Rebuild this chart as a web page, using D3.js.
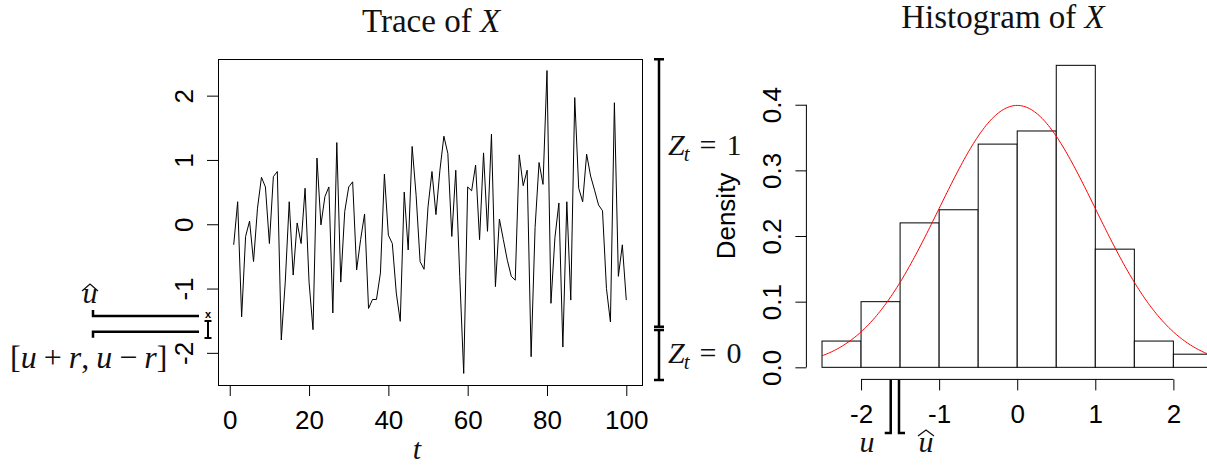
<!DOCTYPE html>
<html>
<head>
<meta charset="utf-8">
<script src="https://cdn.jsdelivr.net/npm/d3@7"></script>
<style>
  body { margin: 0; background: #fff; }
  svg { display: block; }
  .tick text { font-family: "Liberation Sans", Arial, sans-serif; font-size: 26px; fill: #000; }
  .tick line { stroke: #000; }
  .math { font-family: "Liberation Serif", "Times New Roman", serif; font-size: 30px; fill: #111; }
  .ann { fill: none; stroke: #000; stroke-width: 2.5; }
</style>
</head>
<body>
<div id="chart"></div>
<script>
// trace values X_t, t = 1..100
var traceValues = [
  -0.32, 0.35, -1.44, -0.19, 0.05, -0.58, 0.25, 0.73, 0.58, -0.30,
   0.74, 0.82, -1.80, -0.90, 0.35, -0.79, 0.02, -0.30, 0.56, -0.90,
  -1.64, 1.03, -0.01, 0.43, 0.58, -1.38, 1.27, -0.90, 0.20, 0.58,
   0.66, -0.71, -0.24, 0.16, -1.31, -1.17, -1.17, -0.76, 0.78, -0.17,
  -0.30, -1.07, -1.51, 0.50, -0.40, 1.21, 0.45, -0.58, -0.70, 0.27,
   0.82, 0.15, 0.84, 1.37, 1.10, -0.19, 0.84, -0.81, -2.32, 0.58,
   0.52, 0.92, -0.24, 1.11, -0.11, 1.40, -0.97, 0.08, -0.24, -0.56,
  -0.81, -0.87, 1.08, 0.60, 0.84, -2.06, -0.05, 0.96, 0.62, 2.39,
  -1.23, -0.21, 0.33, -1.91, 0.35, -1.18, 1.97, 0.56, 0.35, 1.09,
   0.75, 0.53, 0.30, 0.21, -1.00, -1.52, 1.89, -0.81, -0.32, -1.18
];
var tTicks = [0, 20, 40, 60, 80, 100];
var traceTicks = [-2, -1, 0, 1, 2];

// histogram
var binEdges = [-2.5, -2, -1.5, -1, -0.5, 0, 0.5, 1, 1.5, 2, 2.5];
var density = [0.04, 0.10, 0.22, 0.24, 0.34, 0.36, 0.46, 0.18, 0.04, 0.02];
var histXTicks = [-2, -1, 0, 1, 2];
var densTicks = [0, 0.1, 0.2, 0.3, 0.4];

// annotation levels (data units)
var zBands = [
  {z: "1", from: -1.593, to: 2.565, labelAt: 1.23},
  {z: "0", from: -2.422, to: -1.645, labelAt: -2.0}
];
var uHatLevel = -1.427, uBandLevel = -1.671;
var histU = -1.62, histUHat = -1.514;

var W = 1207, H = 465;
var svg = d3.select("#chart").append("svg")
  .attr("width", W).attr("height", H);

// ---------- left panel: trace ----------
var x = d3.scaleLinear().domain([-2.96, 103.96]).range([218, 642]);
var y = d3.scaleLinear().domain([-2.5, 2.57]).range([385, 59]);

svg.append("rect")
  .attr("x", 218.5).attr("y", 59.5)
  .attr("width", 424).attr("height", 326)
  .attr("fill", "none").attr("stroke", "#000");

var line = d3.line()
  .x(function(d, i) { return x(i + 1); })
  .y(function(d) { return y(d); });

svg.append("path")
  .datum(traceValues)
  .attr("d", line)
  .attr("fill", "none")
  .attr("stroke", "#000")
  .attr("stroke-width", 1);

var xAxis = svg.append("g")
  .attr("transform", "translate(0,385)")
  .call(d3.axisBottom(x).tickValues(tTicks).tickSize(11).tickFormat(function(d) { return String(d); }));
xAxis.select(".domain").remove();
xAxis.selectAll("text").attr("y", 44).attr("dy", null);

var yAxis = svg.append("g")
  .attr("transform", "translate(218,0)")
  .call(d3.axisLeft(y).tickValues(traceTicks).tickSize(11).tickFormat(function(d) { return String(d); }));
yAxis.select(".domain").remove();
yAxis.selectAll("text")
  .attr("x", 0).attr("dy", null)
  .attr("text-anchor", "middle")
  .attr("transform", "translate(-25,0) rotate(-90)");

// title
var t1 = svg.append("text").attr("class", "math").style("font-size", "33px")
  .attr("x", 431).attr("y", 32).attr("text-anchor", "middle");
t1.append("tspan").text("Trace of ");
t1.append("tspan").attr("font-style", "italic").text("X");

svg.append("text").attr("class", "math")
  .attr("x", 417).attr("y", 459).attr("text-anchor", "middle")
  .attr("font-style", "italic").text("t");

// Z_t bars on the right
zBands.forEach(function(b) {
  var y1 = y(b.to), y2 = y(b.from);
  svg.append("path").attr("class", "ann")
    .attr("d", "M654," + y1 + "H664M659," + y1 + "V" + y2 + "M654," + y2 + "H664");
  var lab = svg.append("text").attr("class", "math")
    .attr("x", 668).attr("y", y(b.labelAt) + 10);
  lab.append("tspan").attr("font-style", "italic").text("Z");
  lab.append("tspan").attr("font-style", "italic").style("font-size", "21px").attr("dy", 6).attr("dx", -1).text("t");
  lab.append("tspan").attr("dy", -6).attr("dx", 10).text("=");
  lab.append("tspan").attr("dx", 10).text(b.z);
});

// u-hat and [u+r, u-r] lines on the left
var yh1 = y(uHatLevel), yb1 = y(uBandLevel);
svg.append("path").attr("class", "ann")
  .attr("d", "M93," + (yh1 - 6) + "V" + yh1 + "H199");
svg.append("path").attr("class", "ann")
  .attr("d", "M93," + (yb1 + 6) + "V" + yb1 + "H199");

svg.append("text").attr("class", "math")
  .attr("x", 90).attr("y", 303).attr("text-anchor", "middle")
  .attr("font-style", "italic").text("u");
svg.append("path")
  .attr("d", "M82,291L90,284L98,291")
  .attr("fill", "none").attr("stroke", "#111").attr("stroke-width", 1.3);

var br = svg.append("text").attr("class", "math")
  .attr("x", 10).attr("y", 368).style("font-size", "32px");
br.append("tspan").text("[");
br.append("tspan").attr("font-style", "italic").text("u");
br.append("tspan").attr("dx", 7).text("+");
br.append("tspan").attr("dx", 7).attr("font-style", "italic").text("r");
br.append("tspan").text(",");
br.append("tspan").attr("dx", 7).attr("font-style", "italic").text("u");
br.append("tspan").attr("dx", 7).text("\u2212");
br.append("tspan").attr("dx", 7).attr("font-style", "italic").text("r");
br.append("tspan").text("]");

// small marker next to the y axis
svg.append("path").attr("fill", "none").attr("stroke", "#000").attr("stroke-width", 2)
  .attr("d", "M204.5,321H211.5M208,321V338M204.5,338H211.5");
svg.append("text").attr("x", 208).attr("y", 318).attr("text-anchor", "middle")
  .attr("font-family", "Liberation Sans, sans-serif").attr("font-weight", "bold")
  .attr("font-size", 11).text("x");

// ---------- right panel: histogram ----------
var xh = d3.scaleLinear().domain([-2.7, 2.7]).range([806.4, 806.4 + 5.4 * 78.08]);
var yh = d3.scaleLinear().domain([-0.0184, 0.4784]).range([379.4, 379.4 - 0.4968 * 656.5]);

svg.selectAll(".bar")
  .data(density)
  .enter()
  .append("rect")
  .attr("class", "bar")
  .attr("x", function(d, i) { return xh(binEdges[i]); })
  .attr("y", function(d) { return yh(d); })
  .attr("width", function(d, i) { return xh(binEdges[i + 1]) - xh(binEdges[i]); })
  .attr("height", function(d) { return yh(0) - yh(d); })
  .attr("fill", "#fff")
  .attr("stroke", "#000")
  .attr("stroke-width", 1);

// standard normal density overlay
var dnorm = function(v) { return Math.exp(-v * v / 2) / Math.sqrt(2 * Math.PI); };
var curveX = d3.range(-2.5, 2.5001, 0.02);
svg.append("path")
  .datum(curveX)
  .attr("d", d3.line().x(function(d) { return xh(d); }).y(function(d) { return yh(dnorm(d)); }))
  .attr("fill", "none")
  .attr("stroke", "#ff0000")
  .attr("stroke-width", 1);

var hxAxis = svg.append("g")
  .attr("transform", "translate(0," + yh(-0.0184) + ")")
  .call(d3.axisBottom(xh).tickValues(histXTicks).tickSize(11).tickFormat(function(d) { return String(d); }));
hxAxis.select(".domain").remove();
hxAxis.append("line")
  .attr("x1", xh(histXTicks[0])).attr("x2", xh(histXTicks[histXTicks.length - 1]))
  .attr("stroke", "#000");
hxAxis.selectAll("text").attr("y", 44).attr("dy", null);

var hyAxis = svg.append("g")
  .attr("transform", "translate(" + xh(-2.7) + ",0)")
  .call(d3.axisLeft(yh).tickValues(densTicks).tickSize(11).tickFormat(d3.format(".1f")));
hyAxis.select(".domain").remove();
hyAxis.append("line")
  .attr("y1", yh(densTicks[0])).attr("y2", yh(densTicks[densTicks.length - 1]))
  .attr("stroke", "#000");
hyAxis.selectAll("text")
  .attr("x", 0).attr("dy", null)
  .attr("text-anchor", "middle")
  .attr("transform", "translate(-25,0) rotate(-90)");

svg.append("text")
  .attr("transform", "translate(735,216) rotate(-90)")
  .attr("text-anchor", "middle")
  .attr("font-family", "Liberation Sans, Arial, sans-serif")
  .attr("font-size", 26)
  .text("Density");

var t2 = svg.append("text").attr("class", "math").style("font-size", "33px")
  .attr("x", 1003).attr("y", 28).attr("text-anchor", "middle");
t2.append("tspan").text("Histogram of ");
t2.append("tspan").attr("font-style", "italic").text("X");

// u and u-hat brackets under the histogram axis
var xu = xh(histU), xuh = xh(histUHat);
svg.append("path").attr("class", "ann")
  .attr("d", "M" + xu + ",380V433H" + (xu - 6));
svg.append("path").attr("class", "ann")
  .attr("d", "M" + xuh + ",380V433H" + (xuh + 6));

svg.append("text").attr("class", "math")
  .attr("x", 867).attr("y", 452).attr("text-anchor", "middle")
  .attr("font-style", "italic").text("u");
svg.append("text").attr("class", "math")
  .attr("x", 926).attr("y", 452).attr("text-anchor", "middle")
  .attr("font-style", "italic").text("u");
svg.append("path")
  .attr("d", "M918,436L926,430L934,436")
  .attr("fill", "none").attr("stroke", "#111").attr("stroke-width", 1.3);
</script>
</body>
</html>
